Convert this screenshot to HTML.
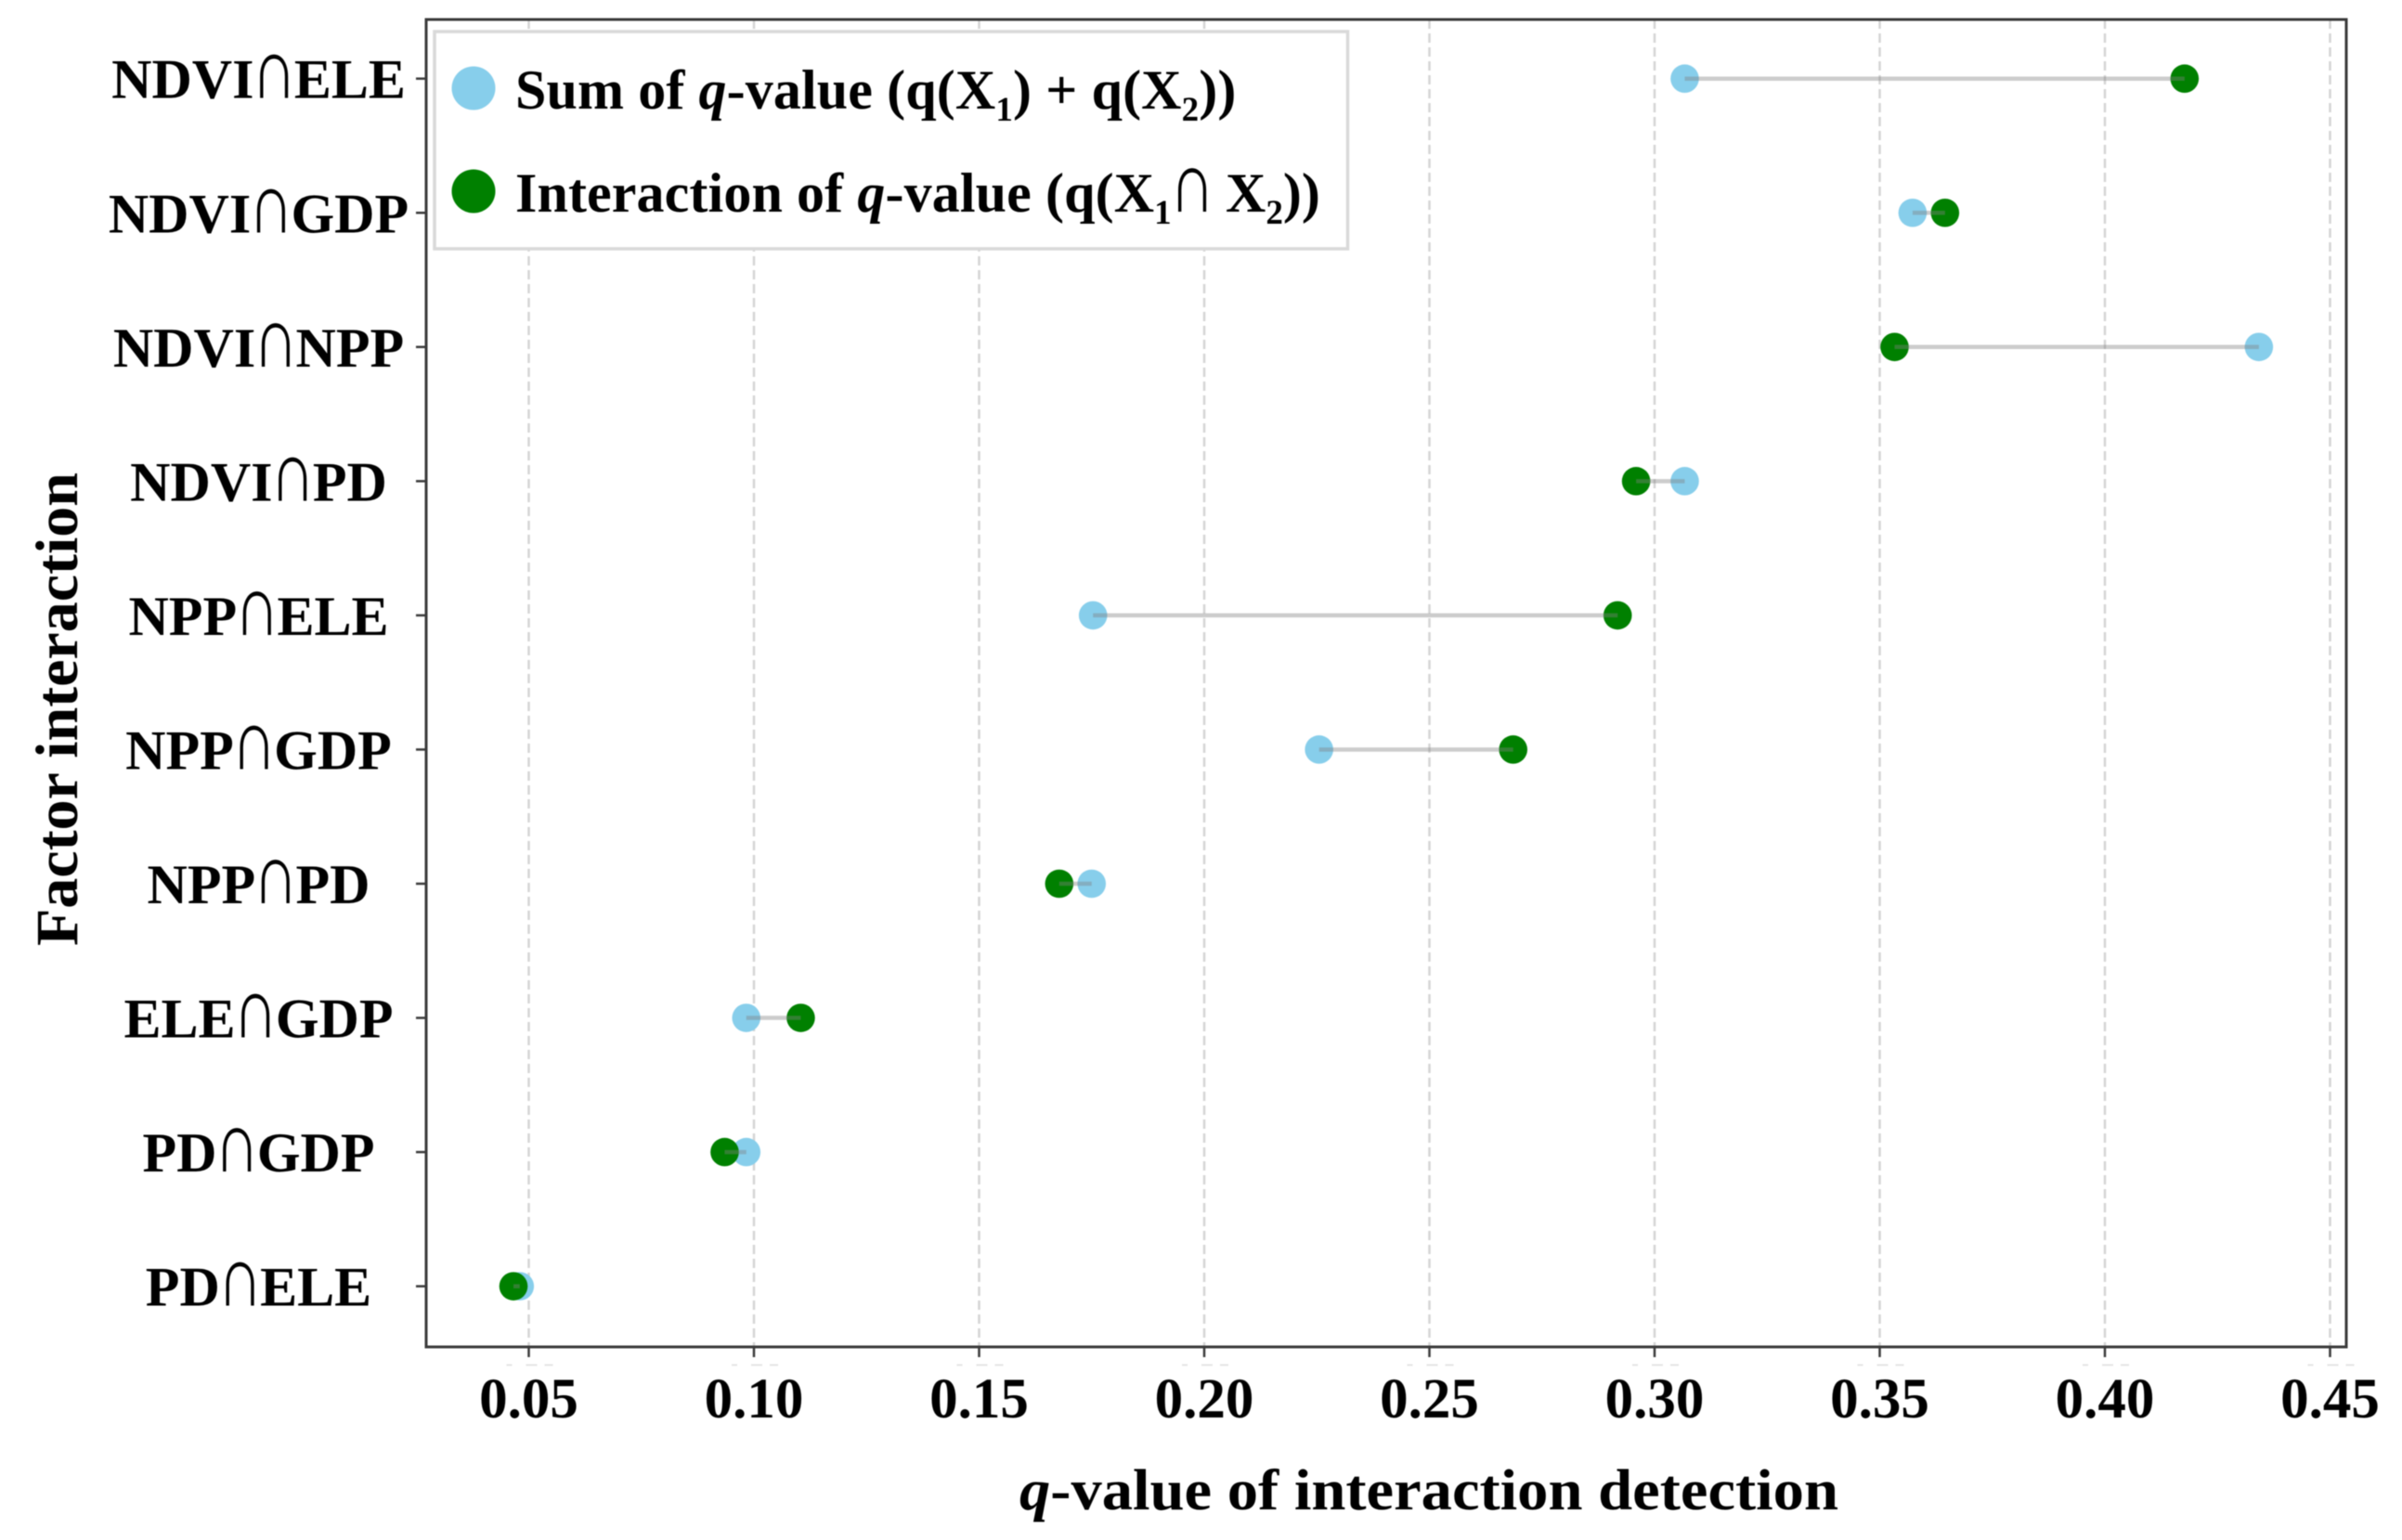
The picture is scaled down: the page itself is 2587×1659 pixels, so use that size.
<!DOCTYPE html>
<html lang="en">
<head>
<meta charset="utf-8">
<title>q-value of interaction detection</title>
<style>
html,body{margin:0;padding:0;background:#fff;}
svg{display:block;filter:blur(0.6px);}
text{font-family:"Liberation Serif","Noto Serif CJK SC",serif;font-weight:bold;fill:#000;}
text.cap{font-weight:normal;}
</style>
</head>
<body>
<svg id="chart" xmlns="http://www.w3.org/2000/svg" width="2587" height="1659" viewBox="0 0 2587 1659">
  <rect x="0" y="0" width="2587" height="1659" fill="#ffffff"/>
  <g id="grid"></g>
  <g id="sum-points"></g>
  <g id="interaction-points"></g>
  <g id="connectors-top"></g>
  <rect x="459" y="21" width="2068" height="1430" fill="none" stroke="#3a3a3a" stroke-width="3"/>
  <g id="x-axis"></g>
  <g id="y-axis"></g>

  <g>
    <rect x="468" y="34" width="983.5" height="234" fill="#ffffff" stroke="#d9d9d9" stroke-width="3.5"/>
    <circle cx="510" cy="95" r="23.5" fill="#87ceeb"/>
    <text x="555" y="117" font-size="60" letter-spacing="0.12">Sum of <tspan font-style="italic">q</tspan>-value (q(X<tspan font-size="37" dy="13">1</tspan><tspan dy="-13">) + q(X</tspan><tspan font-size="37" dy="13">2</tspan><tspan dy="-13">))</tspan></text>
    <circle cx="510" cy="206" r="23.5" fill="#008000"/>
    <text x="555" y="228" font-size="60" letter-spacing="0.12">Interaction of <tspan font-style="italic">q</tspan>-value (q(X<tspan font-size="37" dy="13">1</tspan></text>
    <text class="cap" transform="translate(1284 228) scale(1.12 1.55)" font-size="60" text-anchor="middle">∩</text>
    <text x="1320" y="228" font-size="60">X<tspan font-size="37" dy="13">2</tspan><tspan dy="-13">))</tspan></text>
  </g>

  <text x="1098" y="1626" font-size="62" textLength="882" lengthAdjust="spacingAndGlyphs"><tspan font-style="italic">q</tspan>-value of interaction detection</text>
  <text transform="translate(83 1019) rotate(-90)" x="0" y="0" font-size="65" textLength="510" lengthAdjust="spacingAndGlyphs">Factor interaction</text>
</svg>
<script>
const categories = ["NDVI∩ELE","NDVI∩GDP","NDVI∩NPP","NDVI∩PD","NPP∩ELE","NPP∩GDP","NPP∩PD","ELE∩GDP","PD∩GDP","PD∩ELE"];
const sumValues = [0.3067,0.3573,0.4342,0.3067,0.1753,0.2255,0.1750,0.0983,0.0983,0.0480];
const interactionValues = [0.4177,0.3645,0.3533,0.2959,0.2918,0.2686,0.1678,0.1104,0.0935,0.0466];
const xTickValues = [0.05,0.10,0.15,0.20,0.25,0.30,0.35,0.40,0.45];
const xTickLabels = ["0.05","0.10","0.15","0.20","0.25","0.30","0.35","0.40","0.45"];

const NS = "http://www.w3.org/2000/svg";
function xScale(v){ return 569.5 + (v - 0.05) * 4850; }
function yScale(i){ return 84.7 + i * 144.55; }
function make(tag, attrs, parent){
  const el = document.createElementNS(NS, tag);
  for (const k in attrs) el.setAttribute(k, attrs[k]);
  parent.appendChild(el);
  return el;
}
const gridG = document.getElementById("grid");
const connG = document.getElementById("connectors-top");
const sumG = document.getElementById("sum-points");
const intG = document.getElementById("interaction-points");
const xAxisG = document.getElementById("x-axis");
const yAxisG = document.getElementById("y-axis");

xTickValues.forEach(function(v, i){
  const x = xScale(v);
  const grid = make("line", {x1:x, x2:x, y1:21, y2:1451, stroke:"#d4d4d4", "stroke-width":2.5, "stroke-dasharray":"10 5"}, gridG);
  
  
  const tick = make("line", {x1:x, x2:x, y1:1451, y2:1462, stroke:"#3a3a3a", "stroke-width":2.5}, xAxisG);
  
  
  const frag = make("line", {x1:x-24, x2:x+26, y1:1470.5, y2:1470.5, stroke:"#dddddd", "stroke-width":1.5, "stroke-dasharray":"6 15 12 8 9 100"}, xAxisG);
  
  
  const label = make("text", {x:x, y:1527, "font-size":61, "text-anchor":"middle"}, xAxisG);
  
  
  label.textContent = xTickLabels[i];
});

categories.forEach(function(name, i){
  const y = yScale(i);
  const base = y + 21;
  const tick = make("line", {x1:448, x2:459, y1:y, y2:y, stroke:"#3a3a3a", "stroke-width":2.5}, yAxisG);
  
  

  const group = make("g", {}, yAxisG);
  
  
  const parts = name.split("∩");
  const left = make("text", {y:base, "font-size":60}, group);
  
  
  left.textContent = parts[0];
  const cap = make("text", {class:"cap", "font-size":60, "text-anchor":"middle"}, group);
  
  
  cap.textContent = "∩";
  const right = make("text", {y:base, "font-size":60}, group);
  
  
  right.textContent = parts[1];
  const w1 = left.getComputedTextLength();
  const w2 = cap.getComputedTextLength();
  const w3 = right.getComputedTextLength();
  const start = 278.5 - (w1 + w2 + w3) / 2;
  left.setAttribute("x", start);
  cap.setAttribute("transform", "translate(" + (start + w1 + w2 / 2) + " " + base + ") scale(1.12 1.55)");
  right.setAttribute("x", start + w1 + w2);

  const blue = make("circle", {cx:xScale(sumValues[i]), cy:y, r:15.3, fill:"#87ceeb"}, sumG);
  
  
  const green = make("circle", {cx:xScale(interactionValues[i]), cy:y, r:15.3, fill:"#008000"}, intG);
  
  
  const conn = make("line", {x1:xScale(sumValues[i]), x2:xScale(interactionValues[i]), y1:y, y2:y, stroke:"#808080", "stroke-opacity":0.4, "stroke-width":4.5}, connG);
  
  
});
</script>
</body>
</html>
